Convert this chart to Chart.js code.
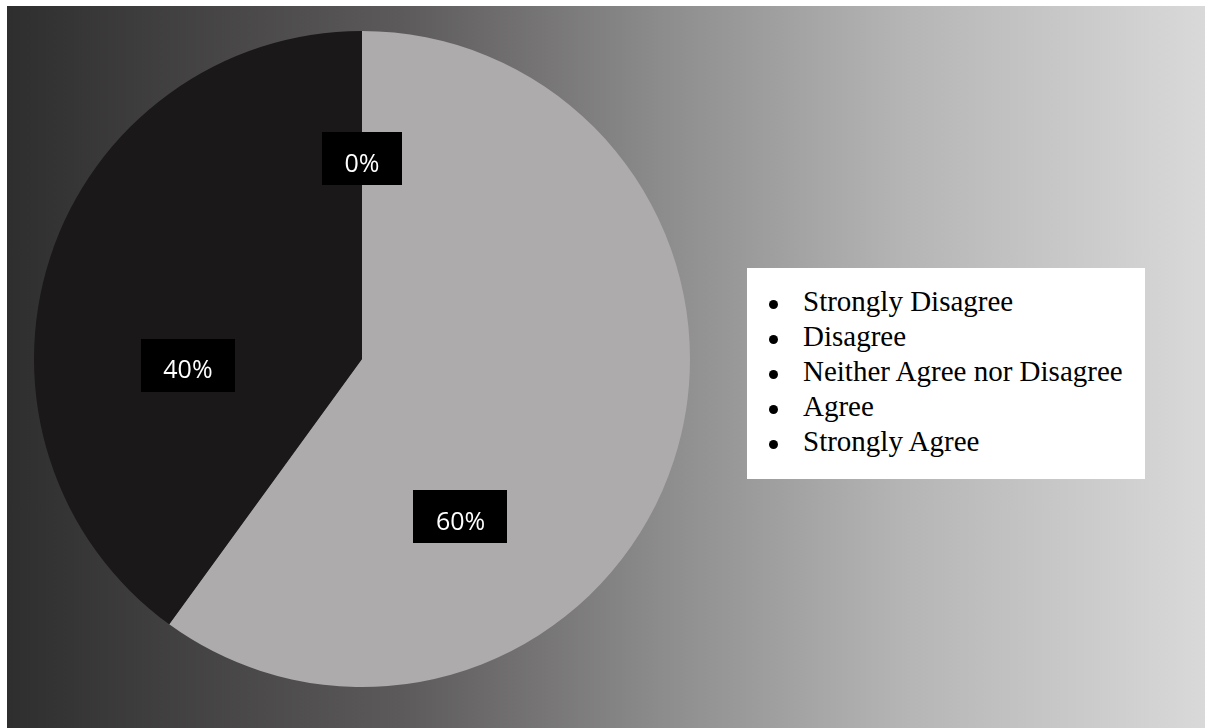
<!DOCTYPE html>
<html>
<head>
<meta charset="utf-8">
<script src="https://cdn.jsdelivr.net/npm/chart.js@4/dist/chart.umd.min.js"></script>
<style>
  html, body { margin: 0; padding: 0; background: #fff; }
  body { width: 1205px; height: 728px; position: relative; overflow: hidden; }
  #panel {
    position: absolute; left: 7px; top: 6px; width: 1198px; height: 722px;
    background: linear-gradient(to right, #2f2e2e 0%, #5c5a5a 33%, #8e8d8d 55%, #b6b5b5 75%, #dad9d9 100%);
  }
  #pie { position: absolute; left: 0; top: 0; }
  #legend {
    position: absolute; left: 740px; top: 262px; width: 398px; height: 211px;
    background: #fff; box-sizing: border-box; padding-top: 16px;
  }
  #legend ul { list-style: none; margin: 0; padding: 0; }
  #legend li {
    position: relative; padding-left: 56px;
    font-family: "Liberation Serif", "Times New Roman", serif;
    font-size: 29px; line-height: 35px; color: #000;
  }
  #legend li::before {
    content: ""; position: absolute; left: 22px; top: 16px;
    width: 9px; height: 9px; border-radius: 50%; background: #000;
  }
</style>
</head>
<body>
<div id="panel">
  <canvas id="pie" width="1198" height="722"></canvas>
  <div id="legend"><ul id="legendList"></ul></div>
</div>
<script>
// data
const categories = ["Strongly Disagree", "Disagree", "Neither Agree nor Disagree", "Agree", "Strongly Agree"];
const percents = [0, 0, 0, 60, 40];
const sliceColors = ["#6f6e6e", "#4a4949", "#8a8989", "#adabab", "#1a1818"];

// where each label box sits: shift from the slice's mid angle (deg) and share of the radius
const labelNudgeDeg = [0, 0, 0, 40, -20];
const labelRadius = [0.611, 0.611, 0.611, 0.567, 0.531];

// black label boxes with white text
const boxLabels = {
  id: "boxLabels",
  afterDatasetsDraw(chart) {
    const ctx = chart.ctx;
    const meta = chart.getDatasetMeta(0);
    ctx.save();
    ctx.font = '25px "Open Sans", sans-serif';
    ctx.textAlign = "center";
    ctx.textBaseline = "middle";
    meta.data.forEach((arc, i) => {
      const p = arc.getProps(["x", "y", "startAngle", "endAngle", "outerRadius"], true);
      const a = (p.startAngle + p.endAngle) / 2 + labelNudgeDeg[i] * Math.PI / 180;
      const d = p.outerRadius * labelRadius[i];
      const cx = p.x + Math.cos(a) * d;
      const cy = p.y + Math.sin(a) * d;
      const txt = chart.data.datasets[0].data[i] + "%";
      const w = ctx.measureText(txt).width + 45;
      const h = 53;
      ctx.fillStyle = "#000";
      ctx.fillRect(Math.round(cx - w / 2), Math.round(cy - h / 2), Math.round(w), h);
      ctx.fillStyle = "#fff";
      ctx.fillText(txt, cx, cy + 6);
    });
    ctx.restore();
  }
};

const chart = new Chart(document.getElementById("pie"), {
  type: "pie",
  data: {
    labels: categories,
    datasets: [{
      data: percents,
      backgroundColor: sliceColors,
      borderWidth: 0
    }]
  },
  options: {
    responsive: false,
    animation: false,
    devicePixelRatio: 1,
    layout: { padding: { left: 27, right: 515, top: 25, bottom: 41 } },
    plugins: {
      legend: { display: false },
      tooltip: { enabled: false }
    }
  },
  plugins: [boxLabels]
});

// legend list from the chart labels
const list = document.getElementById("legendList");
chart.data.labels.forEach(name => {
  const li = document.createElement("li");
  li.textContent = name;
  list.appendChild(li);
});
</script>
</body>
</html>
